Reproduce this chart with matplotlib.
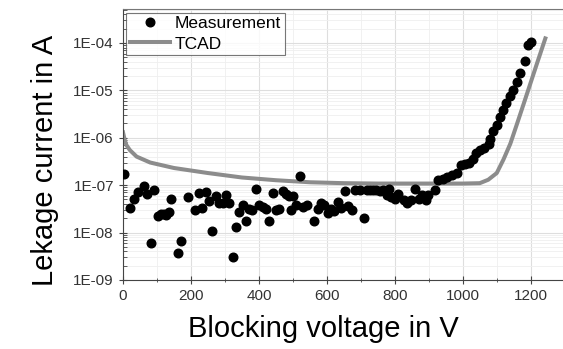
import matplotlib.pyplot as plt
from matplotlib.ticker import MultipleLocator, LogLocator, FixedLocator

plt.rcParams['font.family'] = ['Liberation Sans', 'DejaVu Sans']

# measured leakage current
meas_v = [3, 22, 32, 43, 62, 72, 82, 92, 102, 112, 121, 126, 134, 142, 162, 172,
          192, 212, 223, 232, 243, 253, 263, 273, 283, 293, 303, 313, 323, 332,
          342, 352, 362, 372, 381, 391, 401, 411, 421, 430, 440, 450, 460, 471,
          480, 490, 493, 500, 510, 521, 530, 541, 563, 573, 582, 592, 602, 612,
          622, 632, 643, 653, 663, 673, 682, 697, 710, 717, 727, 737, 746, 756,
          766, 776, 784, 790, 800, 810, 827, 837, 847, 860, 870, 880, 892, 899,
          919, 928, 943, 955, 968, 983, 994, 1006, 1019, 1031, 1040, 1050, 1063,
          1076, 1079, 1089, 1101, 1109, 1119, 1128, 1138, 1148, 1160, 1168, 1182,
          1192, 1202]
meas_i = [1.7e-7, 3.3e-8, 5.1e-8, 7.2e-8, 9.7e-8, 6.5e-8, 6.1e-9, 7.9e-8, 2.2e-8,
          2.45e-8, 2.5e-8, 2.3e-8, 2.7e-8, 5.1e-8, 3.7e-9, 6.6e-9, 5.7e-8, 2.95e-8,
          6.7e-8, 3.3e-8, 7.1e-8, 4.7e-8, 1.06e-8, 5.9e-8, 4.3e-8, 4.3e-8, 6.2e-8,
          4.3e-8, 3.1e-9, 1.29e-8, 2.75e-8, 3.9e-8, 1.74e-8, 3.2e-8, 2.95e-8, 8.1e-8,
          3.8e-8, 3.4e-8, 3.2e-8, 1.78e-8, 6.7e-8, 3.0e-8, 3.1e-8, 7.6e-8, 6.5e-8,
          5.9e-8, 3.0e-8, 5.9e-8, 3.8e-8, 1.55e-7, 3.5e-8, 3.9e-8, 1.74e-8, 3.2e-8,
          4.3e-8, 3.8e-8, 2.6e-8, 3.2e-8, 2.9e-8, 4.4e-8, 3.3e-8, 7.6e-8, 3.6e-8,
          3.0e-8, 7.9e-8, 8.0e-8, 2.05e-8, 8.0e-8, 7.9e-8, 7.8e-8, 7.8e-8, 7.6e-8,
          7.9e-8, 6.2e-8, 8.3e-8, 5.5e-8, 5.0e-8, 6.6e-8, 4.8e-8, 4.2e-8, 4.8e-8,
          8.3e-8, 5.1e-8, 6.2e-8, 4.8e-8, 6.2e-8, 7.9e-8, 1.27e-7, 1.38e-7, 1.45e-7,
          1.6e-7, 1.8e-7, 2.6e-7, 2.8e-7, 3.0e-7, 3.5e-7, 4.8e-7, 5.5e-7, 6.2e-7,
          7.3e-7, 9.5e-7, 1.4e-6, 1.9e-6, 2.7e-6, 3.8e-6, 5.4e-6, 7.5e-6, 1.03e-5,
          1.5e-5, 2.3e-5, 4.1e-5, 8.9e-5, 1.05e-4]

# TCAD simulation
tcad_v = [0, 5, 10, 20, 40, 80, 150, 250, 350, 450, 550, 650, 750, 850, 950, 1000,
          1050, 1075, 1100, 1120, 1140, 1160, 1180, 1200, 1220, 1243]
tcad_i = [1.3e-6, 9e-7, 7e-7, 5.5e-7, 4e-7, 3e-7, 2.3e-7, 1.8e-7, 1.45e-7, 1.27e-7,
          1.15e-7, 1.1e-7, 1.08e-7, 1.08e-7, 1.08e-7, 1.08e-7, 1.1e-7, 1.3e-7,
          1.8e-7, 3.5e-7, 7.5e-7, 2e-6, 5.4e-6, 1.47e-5, 4e-5, 1.25e-4]

ytick_vals = [1e-9, 1e-8, 1e-7, 1e-6, 1e-5, 1e-4]
ytick_labels = ['1E-09', '1E-08', '1E-07', '1E-06', '1E-05', '1E-04']

fig = plt.figure(figsize=(5.63, 3.49), dpi=100)
ax = fig.add_axes([0.2185, 0.198, 0.7815, 0.776])

ax.plot(tcad_v, tcad_i, color='#8c8c8c', lw=2.9, label='TCAD', zorder=2)
ax.plot(meas_v, meas_i, 'o', color='black', ms=6.2, label='Measurement', zorder=3)

ax.set_yscale('log')
ax.set_xlim(0, 1295)
ax.set_ylim(1e-9, 5.2e-4)

ax.xaxis.set_major_locator(MultipleLocator(200))
ax.xaxis.set_minor_locator(MultipleLocator(100))
ax.yaxis.set_major_locator(FixedLocator(ytick_vals))
ax.set_yticklabels(ytick_labels)
ax.yaxis.set_minor_locator(LogLocator(base=10, subs=range(2, 10), numticks=20))

ax.grid(which='major', color='#dedede', lw=0.8)
ax.grid(which='minor', color='#efefef', lw=0.6)
ax.set_axisbelow(True)

ax.tick_params(which='major', direction='inout', length=6, width=0.8,
               labelsize=11, labelcolor='#333333', color='#444444')
ax.tick_params(which='minor', direction='inout', length=3.5, width=0.6, color='#444444')
ax.tick_params(axis='y', which='minor', direction='in', length=3)

for side in ['left', 'bottom']:
    ax.spines[side].set_color('#444444')
ax.spines['top'].set_color('#777777')
ax.spines['right'].set_visible(False)

ax.set_xlabel('Blocking voltage in V', fontsize=21)
ax.xaxis.set_label_coords(0.4545, -0.13)
ax.set_ylabel('Lekage current in A', fontsize=21, labelpad=10)
ax.yaxis.label.set_y(0.44)

handles, labels = ax.get_legend_handles_labels()
leg = ax.legend(handles[::-1], labels[::-1], loc='upper left', fontsize=12.5,
                frameon=True, fancybox=False, edgecolor='#555555',
                borderpad=0.2, labelspacing=0.3, handlelength=2.3,
                handletextpad=0.3, borderaxespad=0.2)
leg.get_frame().set_linewidth(0.8)

fig.savefig('out.png', dpi=100)
